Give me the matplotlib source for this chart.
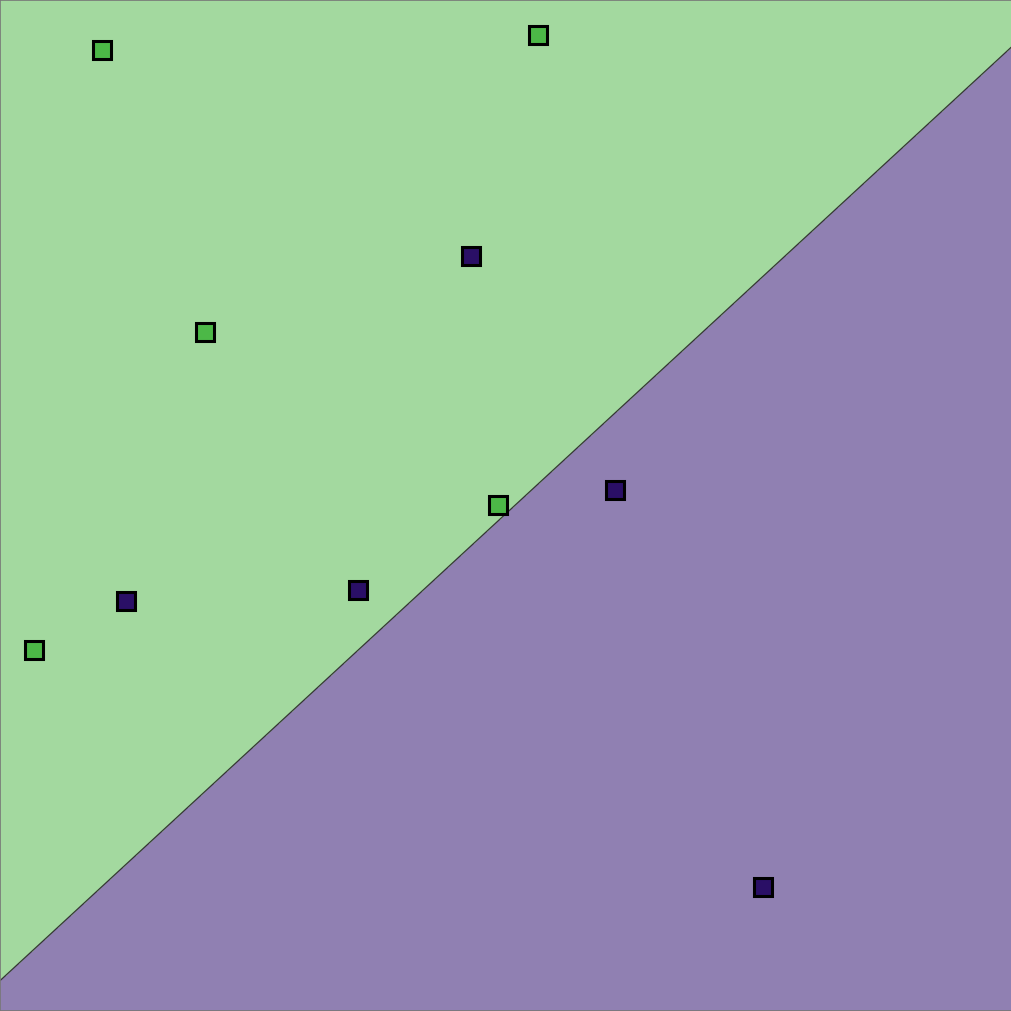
import matplotlib
matplotlib.use("Agg")
import matplotlib.pyplot as plt
import numpy as np
from matplotlib.colors import ListedColormap

# training points (two classes)
green_x = [1.01, 5.32, 2.03, 4.92, 0.34]
green_y = [9.51, 9.65, 6.72, 5.00, 3.57]
purple_x = [4.65, 6.08, 1.25, 3.54, 7.54]
purple_y = [7.47, 5.15, 4.06, 4.16, 1.23]

# linear decision boundary: y = intercept + slope * x
slope = 0.924
intercept = 0.30

xlim = (0, 10)
ylim = (0, 10)

xx, yy = np.meshgrid(np.linspace(*xlim, 400), np.linspace(*ylim, 400))
zz = yy - (intercept + slope * xx)

fig = plt.figure(figsize=(10.12, 10.11), dpi=100)
ax = fig.add_axes([0, 0, 1, 1])

ax.contourf(xx, yy, zz, levels=[-100, 0, 100],
            cmap=ListedColormap(["#9080b2", "#a3d99f"]))
ax.contour(xx, yy, zz, levels=[0], colors="#333333", linewidths=0.9)

ax.plot(green_x, green_y, "s", ms=13, mfc="#4cb847", mec="black", mew=2.2, ls="none")
ax.plot(purple_x, purple_y, "s", ms=13, mfc="#2a0f66", mec="black", mew=2.2, ls="none")

ax.set_xlim(*xlim)
ax.set_ylim(*ylim)
ax.set_xticks([])
ax.set_yticks([])
for sp in ax.spines.values():
    sp.set_color("#777777")
    sp.set_linewidth(1.2)

fig.savefig("out.png", dpi=100)
